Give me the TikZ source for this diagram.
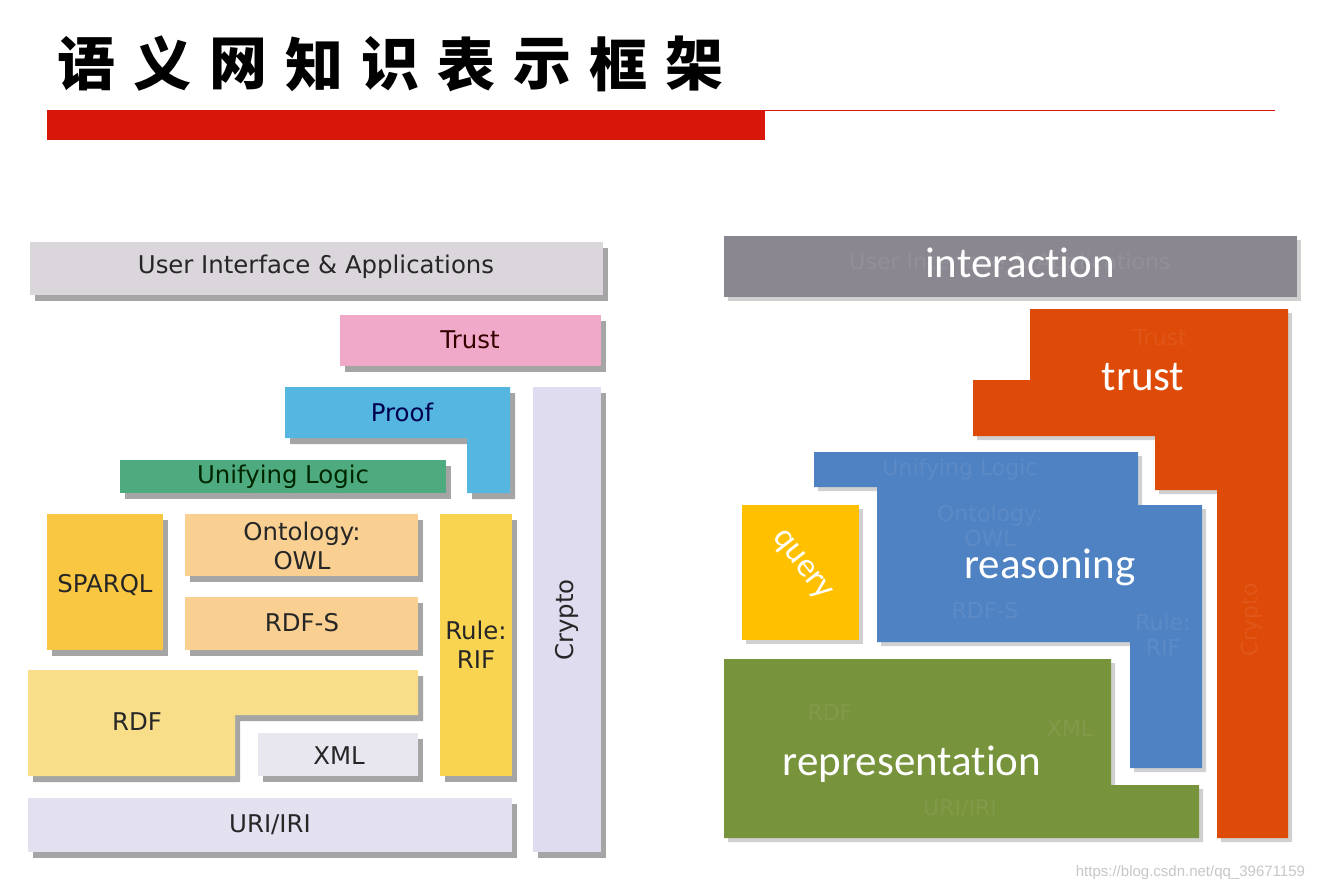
\documentclass[tikz,border=0pt]{standalone}
\usepackage{fontspec}
\setmainfont{DejaVu Sans}
\newfontfamily\cjkfont{Noto Sans CJK SC}
\newfontfamily\calfont[Ligatures=NoCommon]{Carlito}
\newfontfamily\urlfont{Liberation Sans}
\usetikzlibrary{shadows}
\usetikzlibrary{positioning}
\definecolor{barred}{HTML}{D8170A}
\definecolor{uigray}{HTML}{DAD6DB}
\definecolor{trustpink}{HTML}{F0A9C8}
\definecolor{proofblue}{HTML}{55B6E0}
\definecolor{logicgreen}{HTML}{4EAB80}
\definecolor{cryptolav}{HTML}{E0DCEF}
\definecolor{sparqlyel}{HTML}{F9C742}
\definecolor{owltan}{HTML}{F9D091}
\definecolor{ruleyel}{HTML}{F9D450}
\definecolor{rdfyel}{HTML}{F9DE8A}
\definecolor{xmlgray}{HTML}{E8E6EE}
\definecolor{urilav}{HTML}{E3E0F0}
\definecolor{intgray}{HTML}{8B8791}
\definecolor{trustorange}{HTML}{DE4A08}
\definecolor{reasonblue}{HTML}{4F82C2}
\definecolor{queryyel}{HTML}{FFC000}
\definecolor{reprgreen}{HTML}{77933C}
\tikzset{
  blk/.style={drop shadow={shadow xshift=2.5pt, shadow yshift=-3pt,
      opacity=.5, fill=black!70}},
  sblk/.style={drop shadow={shadow xshift=2pt, shadow yshift=-2pt,
      opacity=.3, fill=black!60}},
  lbl/.style={font=\fontsize{12.2}{14.5}\selectfont, text=black!85, align=center},
  big/.style={font=\calfont\fontsize{21.5}{23}\selectfont, text=white},
  ghost/.style={font=\fontsize{11}{12.5}\selectfont, text=white, opacity=.07,
      align=center},
  title/.style={font=\cjkfont\bfseries\fontsize{29}{30}\selectfont}
}
\begin{document}
\begin{tikzpicture}[x=0.5pt, y=-0.5pt]
  \useasboundingbox[fill=white] (0,0) rectangle (1320,891);

  % heading
  \foreach \c [count=\i from 0] in {语,义,网,知,识,表,示,框,架}
    \node[title] (t\i) at (86+76*\i, 64) {\c};
  \fill[barred] (47,110) rectangle (765,140);
  \draw[barred, line width=0.8pt] (765,110.5) -- (1275,110.5);

  % left: the layer cake
  \fill[uigray, blk] (30,242) rectangle (603,295);
  \node[lbl] (ui) at (316,267) {User Interface \& Applications};
  \fill[trustpink, blk] (340,315) rectangle (601,366);
  \node[lbl, text=black!80!red] (trust) at (470,340) {Trust};
  \fill[cryptolav, blk] (533,387) rectangle (601,852);
  \node[lbl, rotate=90] (crypto) at (567,620) {Crypto};
  \fill[proofblue, blk] (285,387) -- (510,387) -- (510,493) -- (467,493)
    -- (467,438) -- (285,438) -- cycle;
  \node[lbl, text=blue!30!black] (proof) at (402,412) {Proof};
  \fill[logicgreen, blk] (120,460) rectangle (446,493);
  \node[lbl, text=green!15!black] (logic) at (283,477) {Unifying Logic};
  \fill[sparqlyel, blk] (47,514) rectangle (163,650);
  \node[lbl] (sparql) at (105,585) {SPARQL};
  \fill[owltan, blk] (185,514) rectangle (418,576);
  \node[lbl] (owl) at (302,546) {Ontology:\\OWL};
  \fill[owltan, blk] (185,597) rectangle (418,650);
  \node[lbl] (rdfs) at (302,623) {RDF-S};
  \fill[ruleyel, blk] (440,514) rectangle (512,776);
  \node[lbl] (rif) at (476,645) {Rule:\\RIF};
  \fill[rdfyel, blk] (28,670) -- (418,670) -- (418,715) -- (235,715)
    -- (235,776) -- (28,776) -- cycle;
  \node[lbl] (rdf) at (137,722) {RDF};
  \fill[xmlgray, blk] (258,733) rectangle (418,776);
  \node[lbl] (xml) at (339,756) {XML};
  \fill[urilav, blk] (28,798) rectangle (512,852);
  \node[lbl] (uri) at (270,825) {URI/IRI};

  % right: the same cake, regrouped
  \fill[intgray, sblk] (724,236) rectangle (1297,297);
  \node[ghost] (gui) at (1010,263) {User Interface \& Applications};
  \node[big] (interaction) at (1020,263) {interaction};

  \fill[trustorange, sblk] (1030,309) -- (1288,309) -- (1288,838)
    -- (1217,838) -- (1217,490) -- (1155,490) -- (1155,436) -- (973,436)
    -- (973,380) -- (1030,380) -- cycle;
  \node[ghost] (gtrust) at (1160,338) {Trust};
  \node[ghost, rotate=90] (gcrypto) at (1252,620) {Crypto};
  \node[big] (trustr) at (1143,377) {trust};

  \fill[reasonblue, sblk] (814,452) -- (1138,452) -- (1138,505) -- (1202,505)
    -- (1202,768) -- (1130,768) -- (1130,642) -- (877,642) -- (877,487)
    -- (814,487) -- cycle;
  \node[ghost] (glogic) at (960,469) {Unifying Logic};
  \node[ghost] (gowl) at (990,526) {Ontology:\\OWL};
  \node[ghost] (grdfs) at (985,610) {RDF-S};
  \node[ghost] (grif) at (1163,635) {Rule:\\RIF};
  \node[big] (reasoning) at (1050,567) {reasoning};

  \fill[queryyel, sblk] (742,505) rectangle (859,640);
  \node[big, font=\calfont\fontsize{17}{18}\selectfont, rotate=-52]
    (query) at (801,566) {query};

  \fill[reprgreen, sblk] (724,659) -- (1111,659) -- (1111,785) -- (1199,785)
    -- (1199,838) -- (724,838) -- cycle;
  \node[ghost] (grdf) at (830,712) {RDF};
  \node[ghost] (gxml) at (1070,728) {XML};
  \node[ghost] (guri) at (960,808) {URI/IRI};
  \node[big] (representation) at (912,764) {representation};

  \node[font=\urlfont\fontsize{7.5}{9}\selectfont, text=black!22, anchor=east]
    (url) at (1312,873) {https://blog.csdn.net/qq\_39671159};
\end{tikzpicture}
\end{document}
